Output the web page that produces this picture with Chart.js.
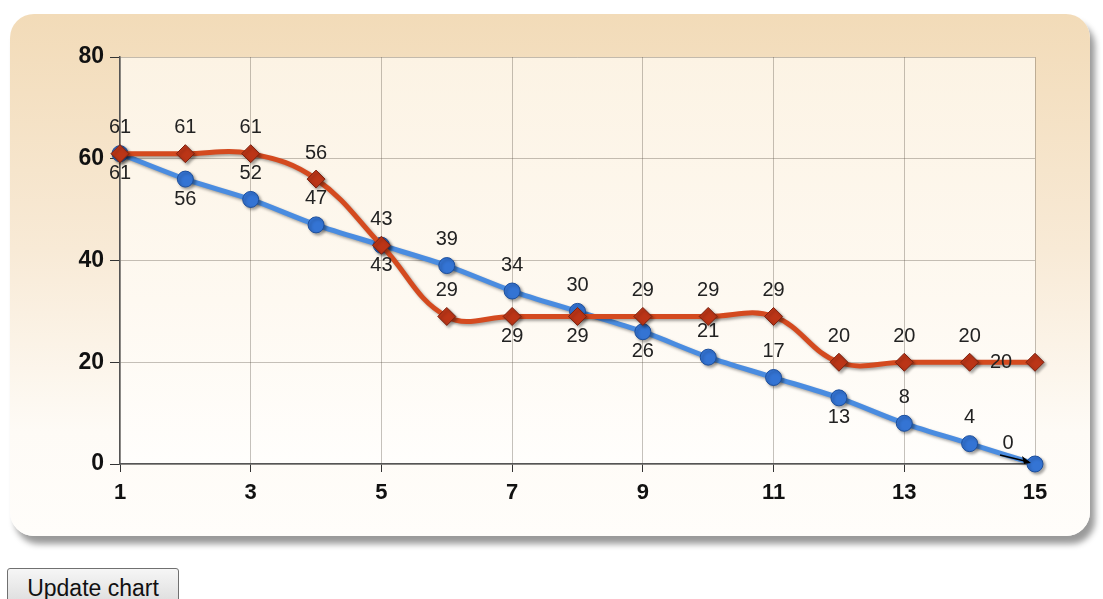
<!DOCTYPE html>
<html>
<head>
<meta charset="utf-8">
<script src="https://cdn.jsdelivr.net/npm/chart.js@4"></script>
<style>
  body { margin: 0; background: #fff; width: 1103px; height: 599px; overflow: hidden; position: relative; }
  #panel {
    position: absolute; left: 10px; top: 14px; width: 1080px; height: 522px;
    border-radius: 24px;
    background: linear-gradient(to bottom, #f2dbb8 0%, #f8ead6 45%, #fefbf6 80%, #fffdfa 100%);
    box-shadow: 5px 8px 6px rgba(0,0,0,0.4);
  }
  #wrap { position: absolute; left: 0; top: 0; width: 1103px; height: 545px; }
  #updateBtn {
    position: absolute; left: 7px; top: 568px; width: 172px; height: 38px;
    font: 23px "Liberation Sans", Arial, sans-serif; color: #111;
    background: linear-gradient(#f6f6f6, #dcdcdc); border: 1px solid #707070; border-radius: 3px;
    padding: 2px 0 0 0;
  }
</style>
</head>
<body>
<div id="panel"></div>
<div id="wrap"><canvas id="burnChart" width="1103" height="545"></canvas></div>
<button id="updateBtn">Update chart</button>
<script>
// chart values
const days = [1, 2, 3, 4, 5, 6, 7, 8, 9, 10, 11, 12, 13, 14, 15];
const idealRemaining = [61, 56, 52, 47, 43, 39, 34, 30, 26, 21, 17, 13, 8, 4, 0];
const actualRemaining = [61, 61, 61, 56, 43, 29, 29, 29, 29, 29, 29, 20, 20, 20, 20];
const yTicks = [0, 20, 40, 60, 80];

// where each value label sits relative to its point (a = above, b = below, l = left, al = above-left with leader)
const idealLabelSide = ['b', 'b', 'a', 'a', 'b', 'a', 'a', 'a', 'b', 'a', 'a', 'b', 'a', 'a', 'al'];
const actualLabelSide = ['a', 'a', 'a', 'a', 'a', 'a', 'b', 'b', 'a', 'a', 'a', 'a', 'a', 'a', 'l'];

// plot area background gradient
const plotBackground = {
    id: 'plotBackground',
    beforeDraw(chart) {
        const { ctx, chartArea: a } = chart;
        const g = ctx.createLinearGradient(0, a.top, 0, a.bottom);
        g.addColorStop(0, '#fcf3e4');
        g.addColorStop(0.6, '#fef9f1');
        g.addColorStop(1, '#fffefc');
        ctx.save();
        ctx.fillStyle = g;
        ctx.fillRect(a.left, a.top, a.right - a.left, a.bottom - a.top);
        ctx.restore();
    }
};

// soft shadow under lines and markers
const lineShadow = {
    id: 'lineShadow',
    beforeDatasetDraw(chart) {
        const ctx = chart.ctx;
        ctx.save();
        ctx.shadowColor = 'rgba(0,0,0,0.35)';
        ctx.shadowBlur = 3;
        ctx.shadowOffsetX = 2;
        ctx.shadowOffsetY = 2;
    },
    afterDatasetDraw(chart) {
        chart.ctx.restore();
    }
};

// value labels next to points
const valueLabels = {
    id: 'valueLabels',
    afterDatasetsDraw(chart) {
        const ctx = chart.ctx;
        ctx.save();
        ctx.font = '20px "Liberation Sans", Arial, sans-serif';
        ctx.fillStyle = '#222';
        ctx.textAlign = 'center';
        ctx.textBaseline = 'middle';
        chart.data.datasets.forEach((ds, di) => {
            const sides = ds.labelSide;
            chart.getDatasetMeta(di).data.forEach((pt, i) => {
                const v = ds.data[i].y;
                const side = sides[i];
                let x = pt.x, y = pt.y;
                if (side === 'a') y -= 26;
                else if (side === 'b') y += 20;
                else if (side === 'l') x -= 34;
                else if (side === 'al') {
                    x -= 27; y -= 21;
                    ctx.strokeStyle = '#000';
                    ctx.lineWidth = 1.5;
                    ctx.beginPath();
                    ctx.moveTo(x - 8, y + 12);
                    ctx.lineTo(pt.x - 6, pt.y - 2);
                    ctx.stroke();
                    ctx.beginPath();
                    ctx.moveTo(pt.x - 4, pt.y - 1);
                    ctx.lineTo(pt.x - 13, pt.y - 8);
                    ctx.lineTo(pt.x - 11, pt.y);
                    ctx.closePath();
                    ctx.fillStyle = '#000';
                    ctx.fill();
                    ctx.fillStyle = '#222';
                }
                ctx.fillText(String(v), x, y);
            });
        });
        ctx.restore();
    }
};

function generateBurndownChart() {
    const ctx = document.getElementById('burnChart').getContext('2d');
    new Chart(ctx, {
        type: 'line',
        data: {
            datasets: [{
                label: 'Actual',
                data: days.map((d, i) => ({ x: d, y: actualRemaining[i] })),
                labelSide: actualLabelSide,
                borderColor: '#d44a1f',
                borderWidth: 5,
                tension: 0.4,
                clip: false,
                pointStyle: 'rectRot',
                pointRadius: 9,
                pointBackgroundColor: '#bb3517',
                pointBorderColor: '#7a2210',
                pointBorderWidth: 1,
                order: 1
            }, {
                label: 'Ideal',
                data: days.map((d, i) => ({ x: d, y: idealRemaining[i] })),
                labelSide: idealLabelSide,
                borderColor: '#4a8ce0',
                borderWidth: 5,
                tension: 0.3,
                clip: false,
                pointStyle: 'circle',
                pointRadius: 8,
                pointBackgroundColor: '#3474d4',
                pointBorderColor: '#1d4f9c',
                pointBorderWidth: 1,
                order: 2
            }]
        },
        options: {
            responsive: false,
            animation: false,
            layout: { padding: { left: 0, right: 68, top: 57, bottom: 0 } },
            plugins: { legend: { display: false }, tooltip: { enabled: false } },
            scales: {
                x: {
                    type: 'linear',
                    min: days[0],
                    max: days[days.length - 1],
                    afterFit(scale) { scale.height = 81; },
                    border: { color: '#555', width: 1.5 },
                    grid: { color: 'rgba(90,80,70,0.35)', tickLength: 8, tickColor: '#333' },
                    ticks: {
                        stepSize: 2,
                        padding: 8,
                        color: '#111',
                        font: { family: '"Liberation Sans", Arial, sans-serif', size: 22, weight: 'bold' }
                    }
                },
                y: {
                    min: yTicks[0],
                    max: yTicks[yTicks.length - 1],
                    afterFit(scale) { scale.width = 120; },
                    afterBuildTicks(scale) { scale.ticks = yTicks.map(v => ({ value: v })); },
                    border: { color: '#555', width: 1.5 },
                    grid: { color: 'rgba(90,80,70,0.35)', tickLength: 10, tickColor: '#333' },
                    ticks: {
                        padding: 6,
                        color: '#111',
                        font: { family: '"Liberation Sans", Arial, sans-serif', size: 23, weight: 'bold' }
                    }
                }
            }
        },
        plugins: [plotBackground, lineShadow, valueLabels]
    });
}

window.onload = function() {
    generateBurndownChart();
};
</script>
</body>
</html>
